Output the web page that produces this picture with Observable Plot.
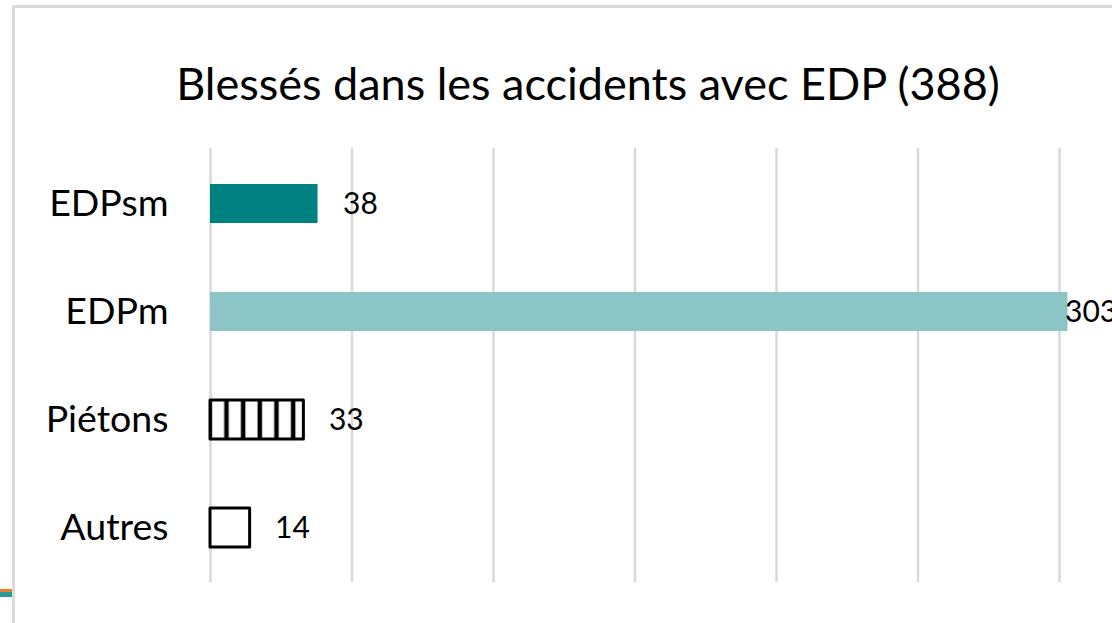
<!DOCTYPE html>
<html>
<head>
<meta charset="utf-8">
<script src="https://cdn.jsdelivr.net/npm/d3@7"></script>
<script src="https://cdn.jsdelivr.net/npm/@observablehq/plot@0.6"></script>
<style>
  html, body { margin: 0; padding: 0; background: white; overflow: hidden; }
  #wrap { position: relative; width: 1112px; height: 623px; overflow: hidden; background: white; font-family: Lato, "Open Sans", sans-serif; }
  #frame { position: absolute; left: 12px; top: 5px; width: 1400px; height: 900px; border: 3px solid #dadada; box-sizing: border-box; }
  #title { position: absolute; left: 0; top: 56px; width: 1176px; text-align: center; font-size: 45px; line-height: 54px; color: #000; white-space: nowrap; }
  #chart { position: absolute; left: 0; top: 0; }
  .deco1 { position: absolute; left: 0; top: 589px; width: 12px; height: 2.5px; background: #ed7d31; }
  .deco2 { position: absolute; left: 0; top: 591.5px; width: 12px; height: 5px; background: #2a9a98; }
</style>
</head>
<body>
<div id="wrap">
  <div id="frame"></div>
  <div class="deco1"></div>
  <div class="deco2"></div>
  <div id="title">Blessés dans les accidents avec EDP (388)</div>
  <div id="chart"></div>
</div>
<script>
const categories = ["EDPsm", "EDPm", "Piétons", "Autres"];
const values = [38, 303, 33, 14];
const xTicks = [0, 50, 100, 150, 200, 250, 300, 350];
const outlined = ["Piétons", "Autres"];

const data = categories.map((c, i) => ({category: c, value: values[i]}));

const pxPerUnit = 2.83;
const x0 = 210;

const chart = Plot.plot({
  width: 1112,
  height: 623,
  marginTop: 148,
  marginBottom: 41,
  marginLeft: x0,
  marginRight: 0,
  style: {fontFamily: "Lato, 'Open Sans', sans-serif", fontSize: "37.5px", color: "#000", background: "transparent", overflow: "hidden"},
  x: {domain: [0, 350], range: [x0, x0 + 350 * pxPerUnit], axis: null},
  y: {domain: categories, paddingInner: 0.64, paddingOuter: 0.32, tickSize: 0, tickPadding: 42, label: null},
  color: {type: "ordinal", domain: categories, range: ["#008080", "#8cc5c6", "url(#stripes)", "white"]},
  marks: [
    Plot.ruleX(xTicks, {x: d => d, stroke: "#d9d9d9", strokeWidth: 2.5, strokeOpacity: 1}),
    Plot.barX(data, {x: "value", y: "category", fill: "category"}),
    Plot.barX(data.filter(d => outlined.includes(d.category)), {x: "value", y: "category", fill: "none", stroke: "black", strokeWidth: 3, strokeLinejoin: "round"}),
    Plot.text(data.filter(d => d.value < 300), {x: "value", y: "category", text: d => String(d.value), textAnchor: "start", dx: 25, fontSize: 30, fill: "#000"}),
    Plot.text(data.filter(d => d.value >= 300), {x: "value", y: "category", text: d => String(d.value), textAnchor: "start", dx: -3, fontSize: 30, fill: "#000"})
  ]
});

// stripes pattern for the "Piétons" bar
const svg = d3.select(chart);
const defs = svg.insert("defs", ":first-child");
const pat = defs.append("pattern")
  .attr("id", "stripes")
  .attr("patternUnits", "userSpaceOnUse")
  .attr("width", 16.67)
  .attr("height", 60);
pat.append("rect").attr("width", 16.67).attr("height", 60).attr("fill", "white");
pat.append("rect").attr("x", 7.5).attr("width", 4.5).attr("height", 60).attr("fill", "black");

document.getElementById("chart").appendChild(chart);
</script>
</body>
</html>
